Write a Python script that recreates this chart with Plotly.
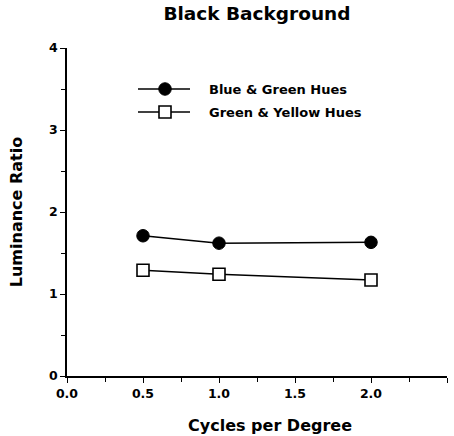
import plotly.graph_objects as go

# Luminance ratio vs spatial frequency, black background
cycles = [0.5, 1.0, 2.0]
blue_green = [1.71, 1.62, 1.63]
green_yellow = [1.29, 1.24, 1.17]

series_names = ["Blue & Green Hues", "Green & Yellow Hues"]

x_ticks = [0.0, 0.5, 1.0, 1.5, 2.0, 2.5]
x_tick_text = ["0.0", "0.5", "1.0", "1.5", "2.0", "2.5"]
y_ticks = [0, 1, 2, 3, 4]
y_tick_text = ["0", "1", "2", "3", "4"]

BOLD = "DejaVu Sans, Verdana, sans-serif"
PLOT_W, PLOT_H = 380, 328   # plot area size in px, used by the key overlay

styles = [
    dict(line=dict(color="black", width=1.5),
         marker=dict(symbol="circle", size=12.5, color="black",
                     line=dict(color="black", width=1))),
    dict(line=dict(color="black", width=1.5),
         marker=dict(symbol="square", size=12, color="white",
                     line=dict(color="black", width=1.6))),
]

fig = go.Figure()
for name, vals, st in zip(series_names, [blue_green, green_yellow], styles):
    fig.add_trace(go.Scatter(x=cycles, y=vals, name=name, mode="lines+markers",
                             showlegend=False, **st))

# Key drawn on an overlay axis measured in plot-area pixels
key_rows = [287, 264]
for name, ky, st in zip(series_names, key_rows, styles):
    fig.add_trace(go.Scatter(x=[71, 123], y=[ky, ky], mode="lines",
                             line=st["line"], xaxis="x2", yaxis="y2",
                             showlegend=False, hoverinfo="skip"))
    fig.add_trace(go.Scatter(x=[98], y=[ky], mode="markers",
                             marker=st["marker"], xaxis="x2", yaxis="y2",
                             showlegend=False, hoverinfo="skip"))
    fig.add_annotation(x=140, y=ky, xref="x2", yref="y2", text=f"<b>{name}</b>",
                       showarrow=False, xanchor="left", yanchor="middle",
                       font=dict(family=BOLD, size=13, color="black"))

# x-axis title, set slightly right of the plot centre, below the tick labels
fig.add_annotation(x=203 / PLOT_W, y=-49 / PLOT_H, xref="paper", yref="paper",
                   text="<b>Cycles per Degree</b>", showarrow=False,
                   xanchor="center", yanchor="middle",
                   font=dict(family=BOLD, size=16, color="black"))

fig.update_layout(
    width=454, height=436,
    margin=dict(l=67, r=7, t=48, b=60),
    paper_bgcolor="white", plot_bgcolor="white",
    font=dict(family=BOLD, color="black", size=11),
    title=dict(text="<b>Black Background</b>", x=0.566, xanchor="center",
               y=0.968, yanchor="middle", font=dict(size=18.5, family=BOLD)),
    xaxis=dict(range=[0, 2.5], tickvals=x_ticks,
               ticktext=[f"<b>{t}</b>" for t in x_tick_text],
               showgrid=False, zeroline=False, showline=True, linecolor="black",
               linewidth=1.5, ticks="outside", ticklen=5, tickwidth=1.2,
               tickcolor="black", tickfont=dict(size=12.5, family=BOLD),
               minor=dict(tickvals=[0.25, 0.75, 1.25, 1.75, 2.25], ticks="outside",
                          ticklen=4, tickwidth=1, tickcolor="black")),
    yaxis=dict(range=[0, 4], tickvals=y_ticks,
               ticktext=[f"<b>{t}</b>" for t in y_tick_text],
               showgrid=False, zeroline=False, showline=True, linecolor="black",
               linewidth=1.5, ticks="outside", ticklen=5, tickwidth=1.2,
               tickcolor="black", tickfont=dict(size=12.5, family=BOLD),
               minor=dict(tickvals=[0.5, 1.5, 2.5, 3.5], ticks="outside",
                          ticklen=4, tickwidth=1, tickcolor="black"),
               title=dict(text="<b>Luminance Ratio</b>", standoff=22,
                          font=dict(size=16, family=BOLD))),
    xaxis2=dict(range=[0, PLOT_W], overlaying="x", visible=False, fixedrange=True),
    yaxis2=dict(range=[0, PLOT_H], overlaying="y", visible=False, fixedrange=True),
)

fig.write_html("out.html")
